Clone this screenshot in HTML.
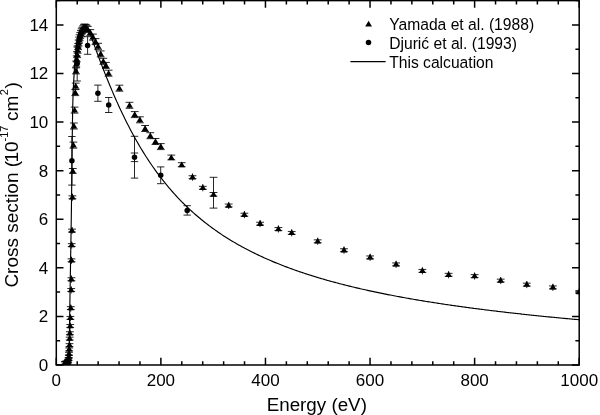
<!DOCTYPE html>
<html><head><meta charset="utf-8"><title>Cross section</title>
<style>html,body{margin:0;padding:0;background:#fff;}body{width:600px;height:415px;overflow:hidden;font-family:"Liberation Sans",sans-serif;}svg{display:block;will-change:transform}</style>
</head><body>
<svg width="600" height="415" viewBox="0 0 600 415">
<rect width="600" height="415" fill="#fff"/>
<defs><clipPath id="c"><rect x="56.3" y="0.6" width="522.9000000000001" height="364.4"/></clipPath></defs>
<g clip-path="url(#c)">
<path d="M213.50 177.30V208.10M209.60 177.30H217.40M209.60 208.10H217.40" stroke="#000" stroke-width="0.85" fill="none"/>
<path d="M134.50 153.00V161.60M130.80 153.00H138.20M130.80 161.60H138.20" stroke="#000" stroke-width="0.85" fill="none"/>
<path d="M71.90 136.50V185.10M68.20 136.50H75.60M68.20 185.10H75.60" stroke="#000" stroke-width="0.85" fill="none"/>
<path d="M77.20 46.00V81.00M73.50 46.00H80.90M73.50 81.00H80.90" stroke="#000" stroke-width="0.85" fill="none"/>
<path d="M87.60 36.70V54.30M83.90 36.70H91.30M83.90 54.30H91.30" stroke="#000" stroke-width="0.85" fill="none"/>
<path d="M97.90 85.10V101.30M94.20 85.10H101.60M94.20 101.30H101.60" stroke="#000" stroke-width="0.85" fill="none"/>
<path d="M108.70 97.50V112.50M105.00 97.50H112.40M105.00 112.50H112.40" stroke="#000" stroke-width="0.85" fill="none"/>
<path d="M134.50 136.30V178.10M130.80 136.30H138.20M130.80 178.10H138.20" stroke="#000" stroke-width="0.85" fill="none"/>
<path d="M160.70 166.90V183.70M157.00 166.90H164.40M157.00 183.70H164.40" stroke="#000" stroke-width="0.85" fill="none"/>
<path d="M187.20 205.70V215.10M183.50 205.70H190.90M183.50 215.10H190.90" stroke="#000" stroke-width="0.85" fill="none"/>
<path d="M64.80 361.85V364.75M60.90 361.85H68.70M60.90 364.75H68.70" stroke="#000" stroke-width="0.85" fill="none"/>
<path d="M64.80 359.70V366.80" stroke="#000" stroke-width="0.85"/>
<path d="M65.30 361.35V364.25M61.40 361.35H69.20M61.40 364.25H69.20" stroke="#000" stroke-width="0.85" fill="none"/>
<path d="M65.30 359.20V366.30" stroke="#000" stroke-width="0.85"/>
<path d="M65.80 361.75V364.65M61.90 361.75H69.70M61.90 364.65H69.70" stroke="#000" stroke-width="0.85" fill="none"/>
<path d="M65.80 359.60V366.70" stroke="#000" stroke-width="0.85"/>
<path d="M66.30 361.15V364.05M62.40 361.15H70.20M62.40 364.05H70.20" stroke="#000" stroke-width="0.85" fill="none"/>
<path d="M66.30 359.00V366.10" stroke="#000" stroke-width="0.85"/>
<path d="M66.80 361.45V364.35M62.90 361.45H70.70M62.90 364.35H70.70" stroke="#000" stroke-width="0.85" fill="none"/>
<path d="M66.80 359.30V366.40" stroke="#000" stroke-width="0.85"/>
<path d="M67.30 360.75V363.65M63.40 360.75H71.20M63.40 363.65H71.20" stroke="#000" stroke-width="0.85" fill="none"/>
<path d="M67.30 358.60V365.70" stroke="#000" stroke-width="0.85"/>
<path d="M67.80 360.15V363.05M63.90 360.15H71.70M63.90 363.05H71.70" stroke="#000" stroke-width="0.85" fill="none"/>
<path d="M67.80 358.00V365.10" stroke="#000" stroke-width="0.85"/>
<path d="M68.20 359.25V362.15M64.30 359.25H72.10M64.30 362.15H72.10" stroke="#000" stroke-width="0.85" fill="none"/>
<path d="M68.20 357.10V364.20" stroke="#000" stroke-width="0.85"/>
<path d="M68.60 357.55V360.45M64.70 357.55H72.50M64.70 360.45H72.50" stroke="#000" stroke-width="0.85" fill="none"/>
<path d="M68.60 355.40V362.50" stroke="#000" stroke-width="0.85"/>
<path d="M68.80 355.15V358.05M64.90 355.15H72.70M64.90 358.05H72.70" stroke="#000" stroke-width="0.85" fill="none"/>
<path d="M68.80 353.00V360.10" stroke="#000" stroke-width="0.85"/>
<path d="M69.00 352.35V355.25M65.10 352.35H72.90M65.10 355.25H72.90" stroke="#000" stroke-width="0.85" fill="none"/>
<path d="M69.00 350.20V357.30" stroke="#000" stroke-width="0.85"/>
<path d="M69.20 347.95V350.85M65.30 347.95H73.10M65.30 350.85H73.10" stroke="#000" stroke-width="0.85" fill="none"/>
<path d="M69.20 345.80V352.90" stroke="#000" stroke-width="0.85"/>
<path d="M69.50 343.65V346.55M65.60 343.65H73.40M65.60 346.55H73.40" stroke="#000" stroke-width="0.85" fill="none"/>
<path d="M69.50 341.50V348.60" stroke="#000" stroke-width="0.85"/>
<path d="M69.70 337.15V340.05M65.80 337.15H73.60M65.80 340.05H73.60" stroke="#000" stroke-width="0.85" fill="none"/>
<path d="M69.70 335.00V342.10" stroke="#000" stroke-width="0.85"/>
<path d="M69.90 331.75V334.65M66.00 331.75H73.80M66.00 334.65H73.80" stroke="#000" stroke-width="0.85" fill="none"/>
<path d="M69.90 329.60V336.70" stroke="#000" stroke-width="0.85"/>
<path d="M70.20 324.55V327.45M66.30 324.55H74.10M66.30 327.45H74.10" stroke="#000" stroke-width="0.85" fill="none"/>
<path d="M70.20 322.40V329.50" stroke="#000" stroke-width="0.85"/>
<path d="M70.40 316.45V319.35M66.50 316.45H74.30M66.50 319.35H74.30" stroke="#000" stroke-width="0.85" fill="none"/>
<path d="M70.40 314.30V321.40" stroke="#000" stroke-width="0.85"/>
<path d="M70.80 306.65V309.55M66.90 306.65H74.70M66.90 309.55H74.70" stroke="#000" stroke-width="0.85" fill="none"/>
<path d="M70.80 304.50V311.60" stroke="#000" stroke-width="0.85"/>
<path d="M71.20 288.55V291.45M67.30 288.55H75.10M67.30 291.45H75.10" stroke="#000" stroke-width="0.85" fill="none"/>
<path d="M71.20 286.40V293.50" stroke="#000" stroke-width="0.85"/>
<path d="M71.40 277.75V280.65M67.50 277.75H75.30M67.50 280.65H75.30" stroke="#000" stroke-width="0.85" fill="none"/>
<path d="M71.40 275.60V282.70" stroke="#000" stroke-width="0.85"/>
<path d="M71.50 258.85V261.75M67.60 258.85H75.40M67.60 261.75H75.40" stroke="#000" stroke-width="0.85" fill="none"/>
<path d="M71.50 256.70V263.80" stroke="#000" stroke-width="0.85"/>
<path d="M71.70 243.65V246.55M67.80 243.65H75.60M67.80 246.55H75.60" stroke="#000" stroke-width="0.85" fill="none"/>
<path d="M71.70 241.50V248.60" stroke="#000" stroke-width="0.85"/>
<path d="M72.00 229.15V232.05M68.10 229.15H75.90M68.10 232.05H75.90" stroke="#000" stroke-width="0.85" fill="none"/>
<path d="M72.00 227.00V234.10" stroke="#000" stroke-width="0.85"/>
<path d="M72.40 195.85V198.75M68.50 195.85H76.30M68.50 198.75H76.30" stroke="#000" stroke-width="0.85" fill="none"/>
<path d="M72.40 193.70V200.80" stroke="#000" stroke-width="0.85"/>
<path d="M72.80 168.50V173.30M68.90 168.50H76.70M68.90 173.30H76.70" stroke="#000" stroke-width="0.85" fill="none"/>
<path d="M73.40 142.10V148.10M69.50 142.10H77.30M69.50 148.10H77.30" stroke="#000" stroke-width="0.85" fill="none"/>
<path d="M73.90 123.00V129.00M70.00 123.00H77.80M70.00 129.00H77.80" stroke="#000" stroke-width="0.85" fill="none"/>
<path d="M74.60 107.10V113.10M70.70 107.10H78.50M70.70 113.10H78.50" stroke="#000" stroke-width="0.85" fill="none"/>
<path d="M75.30 89.60V95.60M71.40 89.60H79.20M71.40 95.60H79.20" stroke="#000" stroke-width="0.85" fill="none"/>
<path d="M75.70 83.10V89.10M71.80 83.10H79.60M71.80 89.10H79.60" stroke="#000" stroke-width="0.85" fill="none"/>
<path d="M76.00 67.90V73.90M72.10 67.90H79.90M72.10 73.90H79.90" stroke="#000" stroke-width="0.85" fill="none"/>
<path d="M76.30 61.10V67.10M72.40 61.10H80.20M72.40 67.10H80.20" stroke="#000" stroke-width="0.85" fill="none"/>
<path d="M76.70 55.90V61.90M72.80 55.90H80.60M72.80 61.90H80.60" stroke="#000" stroke-width="0.85" fill="none"/>
<path d="M77.10 51.60V57.60M73.20 51.60H81.00M73.20 57.60H81.00" stroke="#000" stroke-width="0.85" fill="none"/>
<path d="M77.60 47.20V53.20M73.70 47.20H81.50M73.70 53.20H81.50" stroke="#000" stroke-width="0.85" fill="none"/>
<path d="M78.10 43.60V49.60M74.20 43.60H82.00M74.20 49.60H82.00" stroke="#000" stroke-width="0.85" fill="none"/>
<path d="M78.60 40.00V46.00M74.70 40.00H82.50M74.70 46.00H82.50" stroke="#000" stroke-width="0.85" fill="none"/>
<path d="M79.10 37.10V43.10M75.20 37.10H83.00M75.20 43.10H83.00" stroke="#000" stroke-width="0.85" fill="none"/>
<path d="M79.60 34.80V40.80M75.70 34.80H83.50M75.70 40.80H83.50" stroke="#000" stroke-width="0.85" fill="none"/>
<path d="M80.20 32.60V38.60M76.30 32.60H84.10M76.30 38.60H84.10" stroke="#000" stroke-width="0.85" fill="none"/>
<path d="M80.90 30.60V36.60M77.00 30.60H84.80M77.00 36.60H84.80" stroke="#000" stroke-width="0.85" fill="none"/>
<path d="M81.60 28.80V34.80M77.70 28.80H85.50M77.70 34.80H85.50" stroke="#000" stroke-width="0.85" fill="none"/>
<path d="M82.30 27.30V33.30M78.40 27.30H86.20M78.40 33.30H86.20" stroke="#000" stroke-width="0.85" fill="none"/>
<path d="M83.10 25.90V31.90M79.20 25.90H87.00M79.20 31.90H87.00" stroke="#000" stroke-width="0.85" fill="none"/>
<path d="M83.90 24.80V30.80M80.00 24.80H87.80M80.00 30.80H87.80" stroke="#000" stroke-width="0.85" fill="none"/>
<path d="M84.60 24.00V30.00M80.70 24.00H88.50M80.70 30.00H88.50" stroke="#000" stroke-width="0.85" fill="none"/>
<path d="M85.60 24.50V30.50M81.70 24.50H89.50M81.70 30.50H89.50" stroke="#000" stroke-width="0.85" fill="none"/>
<path d="M86.60 25.30V31.30M82.70 25.30H90.50M82.70 31.30H90.50" stroke="#000" stroke-width="0.85" fill="none"/>
<path d="M87.80 26.40V32.40M83.90 26.40H91.70M83.90 32.40H91.70" stroke="#000" stroke-width="0.85" fill="none"/>
<path d="M90.30 29.60V35.60M86.40 29.60H94.20M86.40 35.60H94.20" stroke="#000" stroke-width="0.85" fill="none"/>
<path d="M92.90 34.10V40.10M89.00 34.10H96.80M89.00 40.10H96.80" stroke="#000" stroke-width="0.85" fill="none"/>
<path d="M95.50 38.60V44.60M91.60 38.60H99.40M91.60 44.60H99.40" stroke="#000" stroke-width="0.85" fill="none"/>
<path d="M98.10 43.30V49.30M94.20 43.30H102.00M94.20 49.30H102.00" stroke="#000" stroke-width="0.85" fill="none"/>
<path d="M100.70 50.90V56.90M96.80 50.90H104.60M96.80 56.90H104.60" stroke="#000" stroke-width="0.85" fill="none"/>
<path d="M103.30 58.30V64.30M99.40 58.30H107.20M99.40 64.30H107.20" stroke="#000" stroke-width="0.85" fill="none"/>
<path d="M105.90 62.40V68.40M102.00 62.40H109.80M102.00 68.40H109.80" stroke="#000" stroke-width="0.85" fill="none"/>
<path d="M108.60 70.20V76.20M104.70 70.20H112.50M104.70 76.20H112.50" stroke="#000" stroke-width="0.85" fill="none"/>
<path d="M119.40 85.20V91.20M115.50 85.20H123.30M115.50 91.20H123.30" stroke="#000" stroke-width="0.85" fill="none"/>
<path d="M129.50 102.30V108.30M125.60 102.30H133.40M125.60 108.30H133.40" stroke="#000" stroke-width="0.85" fill="none"/>
<path d="M134.70 111.60V117.60M130.80 111.60H138.60M130.80 117.60H138.60" stroke="#000" stroke-width="0.85" fill="none"/>
<path d="M139.90 116.80V122.80M136.00 116.80H143.80M136.00 122.80H143.80" stroke="#000" stroke-width="0.85" fill="none"/>
<path d="M145.10 125.50V131.50M141.20 125.50H149.00M141.20 131.50H149.00" stroke="#000" stroke-width="0.85" fill="none"/>
<path d="M150.30 132.70V138.70M146.40 132.70H154.20M146.40 138.70H154.20" stroke="#000" stroke-width="0.85" fill="none"/>
<path d="M155.50 138.50V144.50M151.60 138.50H159.40M151.60 144.50H159.40" stroke="#000" stroke-width="0.85" fill="none"/>
<path d="M160.80 143.60V149.60M156.90 143.60H164.70M156.90 149.60H164.70" stroke="#000" stroke-width="0.85" fill="none"/>
<path d="M171.30 155.10V159.90M167.40 155.10H175.20M167.40 159.90H175.20" stroke="#000" stroke-width="0.85" fill="none"/>
<path d="M181.70 162.70V166.70M177.80 162.70H185.60M177.80 166.70H185.60" stroke="#000" stroke-width="0.85" fill="none"/>
<path d="M192.50 175.75V178.65M188.60 175.75H196.40M188.60 178.65H196.40" stroke="#000" stroke-width="0.85" fill="none"/>
<path d="M192.50 173.60V180.70" stroke="#000" stroke-width="0.85"/>
<path d="M202.80 186.35V189.25M198.90 186.35H206.70M198.90 189.25H206.70" stroke="#000" stroke-width="0.85" fill="none"/>
<path d="M202.80 184.20V191.30" stroke="#000" stroke-width="0.85"/>
<path d="M213.50 192.50V196.10M209.60 192.50H217.40M209.60 196.10H217.40" stroke="#000" stroke-width="0.85" fill="none"/>
<path d="M228.70 204.05V206.95M224.80 204.05H232.60M224.80 206.95H232.60" stroke="#000" stroke-width="0.85" fill="none"/>
<path d="M228.70 201.90V209.00" stroke="#000" stroke-width="0.85"/>
<path d="M244.40 213.25V216.15M240.50 213.25H248.30M240.50 216.15H248.30" stroke="#000" stroke-width="0.85" fill="none"/>
<path d="M244.40 211.10V218.20" stroke="#000" stroke-width="0.85"/>
<path d="M260.10 222.25V225.15M256.20 222.25H264.00M256.20 225.15H264.00" stroke="#000" stroke-width="0.85" fill="none"/>
<path d="M260.10 220.10V227.20" stroke="#000" stroke-width="0.85"/>
<path d="M278.40 227.55V230.45M274.50 227.55H282.30M274.50 230.45H282.30" stroke="#000" stroke-width="0.85" fill="none"/>
<path d="M278.40 225.40V232.50" stroke="#000" stroke-width="0.85"/>
<path d="M291.70 231.45V234.35M287.80 231.45H295.60M287.80 234.35H295.60" stroke="#000" stroke-width="0.85" fill="none"/>
<path d="M291.70 229.30V236.40" stroke="#000" stroke-width="0.85"/>
<path d="M317.70 239.85V242.75M313.80 239.85H321.60M313.80 242.75H321.60" stroke="#000" stroke-width="0.85" fill="none"/>
<path d="M317.70 237.70V244.80" stroke="#000" stroke-width="0.85"/>
<path d="M344.00 248.75V251.65M340.10 248.75H347.90M340.10 251.65H347.90" stroke="#000" stroke-width="0.85" fill="none"/>
<path d="M344.00 246.60V253.70" stroke="#000" stroke-width="0.85"/>
<path d="M370.10 255.95V258.85M366.20 255.95H374.00M366.20 258.85H374.00" stroke="#000" stroke-width="0.85" fill="none"/>
<path d="M370.10 253.80V260.90" stroke="#000" stroke-width="0.85"/>
<path d="M396.10 262.95V265.85M392.20 262.95H400.00M392.20 265.85H400.00" stroke="#000" stroke-width="0.85" fill="none"/>
<path d="M396.10 260.80V267.90" stroke="#000" stroke-width="0.85"/>
<path d="M422.40 269.45V272.35M418.50 269.45H426.30M418.50 272.35H426.30" stroke="#000" stroke-width="0.85" fill="none"/>
<path d="M422.40 267.30V274.40" stroke="#000" stroke-width="0.85"/>
<path d="M448.60 273.35V276.25M444.70 273.35H452.50M444.70 276.25H452.50" stroke="#000" stroke-width="0.85" fill="none"/>
<path d="M448.60 271.20V278.30" stroke="#000" stroke-width="0.85"/>
<path d="M474.60 274.65V277.55M470.70 274.65H478.50M470.70 277.55H478.50" stroke="#000" stroke-width="0.85" fill="none"/>
<path d="M474.60 272.50V279.60" stroke="#000" stroke-width="0.85"/>
<path d="M500.70 279.15V282.05M496.80 279.15H504.60M496.80 282.05H504.60" stroke="#000" stroke-width="0.85" fill="none"/>
<path d="M500.70 277.00V284.10" stroke="#000" stroke-width="0.85"/>
<path d="M526.80 283.15V286.05M522.90 283.15H530.70M522.90 286.05H530.70" stroke="#000" stroke-width="0.85" fill="none"/>
<path d="M526.80 281.00V288.10" stroke="#000" stroke-width="0.85"/>
<path d="M552.90 285.95V288.85M549.00 285.95H556.80M549.00 288.85H556.80" stroke="#000" stroke-width="0.85" fill="none"/>
<path d="M552.90 283.80V290.90" stroke="#000" stroke-width="0.85"/>
<path d="M579.30 290.55V293.45M575.40 290.55H583.20M575.40 293.45H583.20" stroke="#000" stroke-width="0.85" fill="none"/>
<path d="M579.30 288.40V295.50" stroke="#000" stroke-width="0.85"/>
<polyline points="68.90,364.50 68.92,363.24 68.94,361.98 68.96,360.72 68.98,359.46 69.00,358.20 69.02,356.94 69.04,355.68 69.06,354.42 69.07,353.16 69.09,351.91 69.11,350.65 69.13,349.39 69.15,348.13 69.17,346.87 69.19,345.61 69.21,344.35 69.23,343.09 69.25,341.83 69.27,340.57 69.29,339.31 69.31,338.05 69.33,336.79 69.35,335.53 69.37,334.27 69.39,333.01 69.41,331.75 69.43,330.49 69.45,329.23 69.47,327.98 69.49,326.72 69.51,325.46 69.53,324.20 69.55,322.94 69.57,321.68 69.59,320.42 69.61,319.16 69.63,317.90 69.65,316.64 69.68,315.38 69.70,314.12 69.72,312.86 69.74,311.60 69.76,310.34 69.78,309.08 69.80,307.82 69.82,306.56 69.84,305.30 69.86,304.05 69.88,302.79 69.90,301.53 69.93,300.27 69.95,299.01 69.97,297.75 69.99,296.49 70.01,295.23 70.03,293.97 70.05,292.71 70.07,291.45 70.10,290.19 70.12,288.93 70.14,287.67 70.16,286.41 70.18,285.15 70.20,283.89 70.22,282.63 70.24,281.37 70.27,280.12 70.29,278.86 70.31,277.60 70.33,276.34 70.35,275.08 70.37,273.82 70.39,272.56 70.41,271.30 70.43,270.04 70.46,268.78 70.48,267.52 70.50,266.26 70.52,265.00 70.54,263.74 70.56,262.48 70.58,261.22 70.60,259.96 70.62,258.70 70.64,257.45 70.66,256.19 70.68,254.93 70.70,253.67 70.73,252.41 70.75,251.15 70.77,249.89 70.79,248.63 70.81,247.37 70.83,246.11 70.85,244.85 70.87,243.59 70.89,242.33 70.92,241.07 70.94,239.81 70.96,238.55 70.98,237.29 71.00,236.03 71.02,234.77 71.04,233.52 71.06,232.26 71.08,231.00 71.10,229.74 71.12,228.48 71.14,227.22 71.16,225.96 71.18,224.70 71.20,223.44 71.22,222.18 71.24,220.92 71.26,219.66 71.28,218.40 71.30,217.14 71.32,215.88 71.33,214.62 71.35,213.36 71.37,212.10 71.39,210.84 71.41,209.59 71.42,208.33 71.44,207.07 71.46,205.81 71.47,204.55 71.49,203.29 71.51,202.03 71.52,200.77 71.54,199.51 71.55,198.25 71.57,196.99 71.58,195.73 71.60,194.47 71.61,193.21 71.63,191.95 71.64,190.69 71.66,189.43 71.67,188.17 71.69,186.91 71.70,185.65 71.72,184.39 71.73,183.13 71.74,181.88 71.76,180.62 71.77,179.36 71.79,178.10 71.80,176.84 71.82,175.58 71.83,174.32 71.85,173.06 71.86,171.80 71.87,170.54 71.89,169.28 71.90,168.02 71.92,166.76 71.93,165.50 71.95,164.24 71.96,162.98 71.98,161.72 71.99,160.46 72.01,159.20 72.02,157.94 72.04,156.68 72.05,155.42 72.07,154.17 72.08,152.91 72.10,151.65 72.11,150.39 72.13,149.13 72.14,147.87 72.16,146.61 72.17,145.35 72.18,144.09 72.20,142.83 72.21,141.57 72.23,140.31 72.24,139.05 72.26,137.79 72.27,136.53 72.29,135.27 72.30,134.01 72.32,132.75 72.34,131.49 72.35,130.23 72.37,128.97 72.39,127.71 72.40,126.46 72.42,125.20 72.44,123.94 72.46,122.68 72.48,121.42 72.50,120.16 72.52,118.90 72.54,117.64 72.56,116.38 72.58,115.12 72.60,113.86 72.62,112.60 72.65,111.34 72.67,110.08 72.69,108.82 72.72,107.56 72.75,106.30 72.77,105.04 72.80,103.78 72.83,102.53 72.87,101.27 72.90,100.01 72.94,98.75 72.98,97.49 73.02,96.23 73.06,94.97 73.11,93.71 73.16,92.45 73.21,91.20 73.27,89.94 73.32,88.68 73.38,87.42 73.45,86.16 73.51,84.90 73.57,83.65 73.64,82.39 73.71,81.13 73.78,79.87 73.85,78.61 73.92,77.36 73.99,76.10 74.07,74.84 74.14,73.58 74.22,72.33 74.30,71.07 74.37,69.81 74.46,68.56 74.55,67.30 74.64,66.04 74.74,64.79 74.83,63.53 74.94,62.28 75.04,61.02 75.15,59.77 75.25,58.51 75.36,57.25 75.47,56.00 75.58,54.74 75.69,53.49 75.80,52.23 75.91,50.98 76.02,49.72 76.14,48.47 76.27,47.22 76.40,45.97 76.54,44.71 76.69,43.46 76.85,42.21 77.01,40.96 77.20,39.71 77.40,38.47 77.63,37.24 77.89,35.99 78.19,34.76 78.52,33.54 78.88,32.35 79.30,31.16 79.81,29.96 80.42,28.83 81.12,27.85 82.05,26.85 83.14,26.30 84.38,26.51 85.52,26.96 86.47,27.75 87.32,28.79 88.04,29.85 88.66,30.89 89.23,31.97 89.77,33.09 90.27,34.24 90.74,35.42 91.19,36.62 91.63,37.83 92.06,39.04 92.48,40.26 92.91,41.46 93.35,42.66 93.79,43.83 94.23,45.02 94.65,46.20 95.08,47.39 95.50,48.58 95.93,49.76 96.36,50.94 96.80,52.12 97.24,53.31 97.67,54.49 98.11,55.67 98.56,56.85 99.00,58.03 100.20,61.20 101.41,64.35 102.61,67.46 103.82,70.54 105.02,73.59 106.22,76.60 107.43,79.58 108.63,82.52 109.84,85.43 111.04,88.31 112.24,91.14 113.45,93.95 114.65,96.71 115.86,99.44 117.06,102.14 118.26,104.80 119.47,107.42 120.67,110.00 121.88,112.55 123.08,115.07 124.28,117.55 125.49,119.99 126.69,122.40 127.90,124.77 129.10,127.11 130.30,129.42 131.51,131.69 132.71,133.93 133.92,136.13 135.12,138.30 136.32,140.44 137.53,142.55 138.73,144.63 139.94,146.67 141.14,148.69 142.34,150.67 143.55,152.62 144.75,154.55 145.96,156.45 147.16,158.31 148.36,160.15 149.57,161.97 150.77,163.75 151.98,165.51 153.18,167.24 154.38,168.95 155.59,170.63 156.79,172.29 158.00,173.92 159.20,175.53 160.40,177.11 161.61,178.68 162.81,180.21 164.02,181.73 165.22,183.22 166.42,184.70 167.63,186.15 168.83,187.58 170.04,188.99 171.24,190.38 172.44,191.75 173.65,193.10 174.85,194.43 176.06,195.75 177.26,197.04 178.46,198.32 179.67,199.58 180.87,200.82 182.08,202.05 183.28,203.25 184.48,204.45 185.69,205.62 186.89,206.78 188.10,207.92 189.30,209.05 190.50,210.17 191.71,211.27 192.91,212.35 194.12,213.42 195.32,214.47 196.52,215.52 197.73,216.55 198.93,217.56 200.14,218.56 201.34,219.55 202.54,220.53 203.75,221.49 204.95,222.45 206.16,223.39 207.36,224.31 208.56,225.23 209.77,226.14 210.97,227.03 212.18,227.91 213.38,228.79 214.58,229.65 215.79,230.50 216.99,231.34 218.20,232.17 219.40,232.99 220.61,233.80 221.81,234.61 223.01,235.40 224.22,236.18 225.42,236.95 226.63,237.72 227.83,238.48 229.03,239.22 230.24,239.96 231.44,240.69 232.65,241.41 233.85,242.13 235.05,242.83 236.26,243.53 237.46,244.22 238.67,244.91 239.87,245.58 241.07,246.25 242.28,246.91 243.48,247.56 244.69,248.21 245.89,248.85 247.09,249.48 248.30,250.11 249.50,250.72 250.71,251.34 251.91,251.94 253.11,252.54 254.32,253.14 255.52,253.72 256.73,254.30 257.93,254.88 259.13,255.45 260.34,256.01 261.54,256.57 262.75,257.12 263.95,257.67 265.15,258.21 266.36,258.75 267.56,259.28 268.77,259.80 269.97,260.32 271.17,260.84 272.38,261.35 273.58,261.85 274.79,262.35 275.99,262.85 277.19,263.34 278.40,263.83 279.60,264.31 280.81,264.79 282.01,265.26 283.21,265.73 284.42,266.19 285.62,266.65 286.83,267.11 288.03,267.56 289.23,268.00 290.44,268.45 291.64,268.89 292.85,269.32 294.05,269.75 295.25,270.18 296.46,270.60 297.66,271.02 298.87,271.44 300.07,271.85 301.27,272.26 302.48,272.66 303.68,273.07 304.89,273.46 306.09,273.86 307.29,274.25 308.50,274.64 309.70,275.02 310.91,275.41 312.11,275.78 313.31,276.16 314.52,276.53 315.72,276.90 316.93,277.27 318.13,277.63 319.33,277.99 320.54,278.35 321.74,278.70 322.95,279.05 324.15,279.40 325.35,279.75 326.56,280.09 327.76,280.43 328.97,280.77 330.17,281.10 331.37,281.44 332.58,281.77 333.78,282.09 334.99,282.42 336.19,282.74 337.39,283.06 338.60,283.38 339.80,283.69 341.01,284.00 342.21,284.31 343.41,284.62 344.62,284.93 345.82,285.23 347.03,285.53 348.23,285.83 349.43,286.13 350.64,286.42 351.84,286.71 353.05,287.00 354.25,287.29 355.45,287.58 356.66,287.86 357.86,288.14 359.07,288.42 360.27,288.70 361.47,288.98 362.68,289.25 363.88,289.52 365.09,289.79 366.29,290.06 367.49,290.33 368.70,290.59 369.90,290.85 371.11,291.12 372.31,291.38 373.51,291.63 374.72,291.89 375.92,292.14 377.13,292.39 378.33,292.64 379.53,292.89 380.74,293.14 381.94,293.39 383.15,293.63 384.35,293.87 385.55,294.11 386.76,294.35 387.96,294.59 389.17,294.83 390.37,295.06 391.57,295.29 392.78,295.53 393.98,295.76 395.19,295.99 396.39,296.21 397.59,296.44 398.80,296.66 400.00,296.89 401.21,297.11 402.41,297.33 403.61,297.55 404.82,297.76 406.02,297.98 407.23,298.20 408.43,298.41 409.63,298.62 410.84,298.83 412.04,299.04 413.25,299.25 414.45,299.46 415.65,299.66 416.86,299.87 418.06,300.07 419.27,300.27 420.47,300.48 421.67,300.68 422.88,300.88 424.08,301.07 425.29,301.27 426.49,301.46 427.69,301.66 428.90,301.85 430.10,302.04 431.31,302.24 432.51,302.43 433.71,302.61 434.92,302.80 436.12,302.99 437.33,303.18 438.53,303.36 439.73,303.54 440.94,303.73 442.14,303.91 443.35,304.09 444.55,304.27 445.75,304.45 446.96,304.63 448.16,304.80 449.37,304.98 450.57,305.15 451.77,305.33 452.98,305.50 454.18,305.67 455.39,305.84 456.59,306.01 457.79,306.18 459.00,306.35 460.20,306.52 461.41,306.69 462.61,306.85 463.82,307.02 465.02,307.18 466.22,307.35 467.43,307.51 468.63,307.67 469.84,307.83 471.04,307.99 472.24,308.15 473.45,308.31 474.65,308.47 475.86,308.62 477.06,308.78 478.26,308.94 479.47,309.09 480.67,309.24 481.88,309.40 483.08,309.55 484.28,309.70 485.49,309.85 486.69,310.00 487.90,310.15 489.10,310.30 490.30,310.45 491.51,310.60 492.71,310.74 493.92,310.89 495.12,311.03 496.32,311.18 497.53,311.32 498.73,311.47 499.94,311.61 501.14,311.75 502.34,311.89 503.55,312.03 504.75,312.17 505.96,312.31 507.16,312.45 508.36,312.59 509.57,312.72 510.77,312.86 511.98,313.00 513.18,313.13 514.38,313.27 515.59,313.40 516.79,313.54 518.00,313.67 519.20,313.80 520.40,313.93 521.61,314.07 522.81,314.20 524.02,314.33 525.22,314.46 526.42,314.59 527.63,314.71 528.83,314.84 530.04,314.97 531.24,315.10 532.44,315.22 533.65,315.35 534.85,315.47 536.06,315.60 537.26,315.72 538.46,315.85 539.67,315.97 540.87,316.09 542.08,316.21 543.28,316.34 544.48,316.46 545.69,316.58 546.89,316.70 548.10,316.82 549.30,316.94 550.50,317.06 551.71,317.17 552.91,317.29 554.12,317.41 555.32,317.53 556.52,317.64 557.73,317.76 558.93,317.87 560.14,317.99 561.34,318.10 562.54,318.22 563.75,318.33 564.95,318.44 566.16,318.56 567.36,318.67 568.56,318.78 569.77,318.89 570.97,319.00 572.18,319.11 573.38,319.22 574.58,319.33 575.79,319.44 576.99,319.55 578.20,319.66 579.40,319.77" fill="none" stroke="#000" stroke-width="1.15" stroke-linejoin="round"/>
<circle cx="71.90" cy="160.80" r="2.75" fill="#000"/>
<circle cx="77.20" cy="63.50" r="2.75" fill="#000"/>
<circle cx="87.60" cy="45.50" r="2.75" fill="#000"/>
<circle cx="97.90" cy="93.20" r="2.75" fill="#000"/>
<circle cx="108.70" cy="105.00" r="2.75" fill="#000"/>
<circle cx="134.50" cy="157.20" r="2.75" fill="#000"/>
<circle cx="160.70" cy="175.30" r="2.75" fill="#000"/>
<circle cx="187.20" cy="210.40" r="2.75" fill="#000"/>
<path d="M64.80 359.70L68.20 365.50H61.40Z" fill="#000"/>
<path d="M65.30 359.20L68.70 365.00H61.90Z" fill="#000"/>
<path d="M65.80 359.60L69.20 365.40H62.40Z" fill="#000"/>
<path d="M66.30 359.00L69.70 364.80H62.90Z" fill="#000"/>
<path d="M66.80 359.30L70.20 365.10H63.40Z" fill="#000"/>
<path d="M67.30 358.60L70.70 364.40H63.90Z" fill="#000"/>
<path d="M67.80 358.00L71.20 363.80H64.40Z" fill="#000"/>
<path d="M68.20 357.10L71.60 362.90H64.80Z" fill="#000"/>
<path d="M68.60 355.40L72.00 361.20H65.20Z" fill="#000"/>
<path d="M68.80 353.00L72.20 358.80H65.40Z" fill="#000"/>
<path d="M69.00 350.20L72.40 356.00H65.60Z" fill="#000"/>
<path d="M69.20 345.80L72.60 351.60H65.80Z" fill="#000"/>
<path d="M69.50 341.50L72.90 347.30H66.10Z" fill="#000"/>
<path d="M69.70 335.00L73.10 340.80H66.30Z" fill="#000"/>
<path d="M69.90 329.60L73.30 335.40H66.50Z" fill="#000"/>
<path d="M70.20 322.40L73.60 328.20H66.80Z" fill="#000"/>
<path d="M70.40 314.30L73.80 320.10H67.00Z" fill="#000"/>
<path d="M70.80 304.50L74.20 310.30H67.40Z" fill="#000"/>
<path d="M71.20 286.40L74.60 292.20H67.80Z" fill="#000"/>
<path d="M71.40 275.60L74.80 281.40H68.00Z" fill="#000"/>
<path d="M71.50 256.70L74.90 262.50H68.10Z" fill="#000"/>
<path d="M71.70 241.50L75.10 247.30H68.30Z" fill="#000"/>
<path d="M72.00 227.00L75.40 232.80H68.60Z" fill="#000"/>
<path d="M72.40 193.70L75.80 199.50H69.00Z" fill="#000"/>
<path d="M72.80 167.60L76.20 173.40H69.40Z" fill="#000"/>
<path d="M73.40 141.80L76.80 147.60H70.00Z" fill="#000"/>
<path d="M73.90 122.70L77.30 128.50H70.50Z" fill="#000"/>
<path d="M74.60 106.80L78.00 112.60H71.20Z" fill="#000"/>
<path d="M75.30 89.30L78.70 95.10H71.90Z" fill="#000"/>
<path d="M75.70 82.80L79.10 88.60H72.30Z" fill="#000"/>
<path d="M76.00 67.60L79.40 73.40H72.60Z" fill="#000"/>
<path d="M76.30 60.80L79.70 66.60H72.90Z" fill="#000"/>
<path d="M76.70 55.60L80.10 61.40H73.30Z" fill="#000"/>
<path d="M77.10 51.30L80.50 57.10H73.70Z" fill="#000"/>
<path d="M77.60 46.90L81.00 52.70H74.20Z" fill="#000"/>
<path d="M78.10 43.30L81.50 49.10H74.70Z" fill="#000"/>
<path d="M78.60 39.70L82.00 45.50H75.20Z" fill="#000"/>
<path d="M79.10 36.80L82.50 42.60H75.70Z" fill="#000"/>
<path d="M79.60 34.50L83.00 40.30H76.20Z" fill="#000"/>
<path d="M80.20 32.30L83.60 38.10H76.80Z" fill="#000"/>
<path d="M80.90 30.30L84.30 36.10H77.50Z" fill="#000"/>
<path d="M81.60 28.50L85.00 34.30H78.20Z" fill="#000"/>
<path d="M82.30 27.00L85.70 32.80H78.90Z" fill="#000"/>
<path d="M83.10 25.60L86.50 31.40H79.70Z" fill="#000"/>
<path d="M83.90 24.50L87.30 30.30H80.50Z" fill="#000"/>
<path d="M84.60 23.70L88.00 29.50H81.20Z" fill="#000"/>
<path d="M85.60 24.20L89.00 30.00H82.20Z" fill="#000"/>
<path d="M86.60 25.00L90.00 30.80H83.20Z" fill="#000"/>
<path d="M87.80 26.10L91.20 31.90H84.40Z" fill="#000"/>
<path d="M90.30 29.30L93.70 35.10H86.90Z" fill="#000"/>
<path d="M92.90 33.80L96.30 39.60H89.50Z" fill="#000"/>
<path d="M95.50 38.30L98.90 44.10H92.10Z" fill="#000"/>
<path d="M98.10 43.00L101.50 48.80H94.70Z" fill="#000"/>
<path d="M100.70 50.60L104.10 56.40H97.30Z" fill="#000"/>
<path d="M103.30 58.00L106.70 63.80H99.90Z" fill="#000"/>
<path d="M105.90 62.10L109.30 67.90H102.50Z" fill="#000"/>
<path d="M108.60 69.90L112.00 75.70H105.20Z" fill="#000"/>
<path d="M119.40 84.90L122.80 90.70H116.00Z" fill="#000"/>
<path d="M129.50 102.00L132.90 107.80H126.10Z" fill="#000"/>
<path d="M134.70 111.30L138.10 117.10H131.30Z" fill="#000"/>
<path d="M139.90 116.50L143.30 122.30H136.50Z" fill="#000"/>
<path d="M145.10 125.20L148.50 131.00H141.70Z" fill="#000"/>
<path d="M150.30 132.40L153.70 138.20H146.90Z" fill="#000"/>
<path d="M155.50 138.20L158.90 144.00H152.10Z" fill="#000"/>
<path d="M160.80 143.30L164.20 149.10H157.40Z" fill="#000"/>
<path d="M171.30 154.20L174.70 160.00H167.90Z" fill="#000"/>
<path d="M181.70 161.40L185.10 167.20H178.30Z" fill="#000"/>
<path d="M192.50 173.60L195.90 179.40H189.10Z" fill="#000"/>
<path d="M202.80 184.20L206.20 190.00H199.40Z" fill="#000"/>
<path d="M213.50 191.00L216.90 196.80H210.10Z" fill="#000"/>
<path d="M228.70 201.90L232.10 207.70H225.30Z" fill="#000"/>
<path d="M244.40 211.10L247.80 216.90H241.00Z" fill="#000"/>
<path d="M260.10 220.10L263.50 225.90H256.70Z" fill="#000"/>
<path d="M278.40 225.40L281.80 231.20H275.00Z" fill="#000"/>
<path d="M291.70 229.30L295.10 235.10H288.30Z" fill="#000"/>
<path d="M317.70 237.70L321.10 243.50H314.30Z" fill="#000"/>
<path d="M344.00 246.60L347.40 252.40H340.60Z" fill="#000"/>
<path d="M370.10 253.80L373.50 259.60H366.70Z" fill="#000"/>
<path d="M396.10 260.80L399.50 266.60H392.70Z" fill="#000"/>
<path d="M422.40 267.30L425.80 273.10H419.00Z" fill="#000"/>
<path d="M448.60 271.20L452.00 277.00H445.20Z" fill="#000"/>
<path d="M474.60 272.50L478.00 278.30H471.20Z" fill="#000"/>
<path d="M500.70 277.00L504.10 282.80H497.30Z" fill="#000"/>
<path d="M526.80 281.00L530.20 286.80H523.40Z" fill="#000"/>
<path d="M552.90 283.80L556.30 289.60H549.50Z" fill="#000"/>
<path d="M579.30 288.40L582.70 294.20H575.90Z" fill="#000"/>
</g>
<rect x="56.3" y="0.6" width="522.9000000000001" height="364.4" fill="none" stroke="#000" stroke-width="1.5"/>
<path d="M56.30 365.0v-7.2M56.30 0.6v7.2M77.22 365.0v-3.8M77.22 0.6v3.8M98.13 365.0v-3.8M98.13 0.6v3.8M119.05 365.0v-3.8M119.05 0.6v3.8M139.96 365.0v-3.8M139.96 0.6v3.8M160.88 365.0v-7.2M160.88 0.6v7.2M181.80 365.0v-3.8M181.80 0.6v3.8M202.71 365.0v-3.8M202.71 0.6v3.8M223.63 365.0v-3.8M223.63 0.6v3.8M244.54 365.0v-3.8M244.54 0.6v3.8M265.46 365.0v-7.2M265.46 0.6v7.2M286.38 365.0v-3.8M286.38 0.6v3.8M307.29 365.0v-3.8M307.29 0.6v3.8M328.21 365.0v-3.8M328.21 0.6v3.8M349.12 365.0v-3.8M349.12 0.6v3.8M370.04 365.0v-7.2M370.04 0.6v7.2M390.96 365.0v-3.8M390.96 0.6v3.8M411.87 365.0v-3.8M411.87 0.6v3.8M432.79 365.0v-3.8M432.79 0.6v3.8M453.70 365.0v-3.8M453.70 0.6v3.8M474.62 365.0v-7.2M474.62 0.6v7.2M495.54 365.0v-3.8M495.54 0.6v3.8M516.45 365.0v-3.8M516.45 0.6v3.8M537.37 365.0v-3.8M537.37 0.6v3.8M558.28 365.0v-3.8M558.28 0.6v3.8M579.20 365.0v-7.2M579.20 0.6v7.2M56.3 365.00h7.2M579.2 365.00h-7.2M56.3 340.71h3.8M579.2 340.71h-3.8M56.3 316.41h7.2M579.2 316.41h-7.2M56.3 292.12h3.8M579.2 292.12h-3.8M56.3 267.83h7.2M579.2 267.83h-7.2M56.3 243.54h3.8M579.2 243.54h-3.8M56.3 219.24h7.2M579.2 219.24h-7.2M56.3 194.95h3.8M579.2 194.95h-3.8M56.3 170.66h7.2M579.2 170.66h-7.2M56.3 146.36h3.8M579.2 146.36h-3.8M56.3 122.07h7.2M579.2 122.07h-7.2M56.3 97.78h3.8M579.2 97.78h-3.8M56.3 73.49h7.2M579.2 73.49h-7.2M56.3 49.19h3.8M579.2 49.19h-3.8M56.3 24.90h7.2M579.2 24.90h-7.2M56.3 0.61h3.8M579.2 0.61h-3.8" stroke="#000" stroke-width="1.5" fill="none"/>
<g font-family="Liberation Sans, sans-serif" font-size="17" fill="#000">
<text x="56.30" y="386.4" text-anchor="middle">0</text>
<text x="160.88" y="386.4" text-anchor="middle">200</text>
<text x="265.46" y="386.4" text-anchor="middle">400</text>
<text x="370.04" y="386.4" text-anchor="middle">600</text>
<text x="474.62" y="386.4" text-anchor="middle">800</text>
<text x="579.20" y="386.4" text-anchor="middle">1000</text>
<text x="48.3" y="371.00" text-anchor="end">0</text>
<text x="48.3" y="322.41" text-anchor="end">2</text>
<text x="48.3" y="273.83" text-anchor="end">4</text>
<text x="48.3" y="225.24" text-anchor="end">6</text>
<text x="48.3" y="176.66" text-anchor="end">8</text>
<text x="48.3" y="128.07" text-anchor="end">10</text>
<text x="48.3" y="79.49" text-anchor="end">12</text>
<text x="48.3" y="30.90" text-anchor="end">14</text>
</g>
<g font-family="Liberation Sans, sans-serif" font-size="18.8" fill="#000">
<text x="316.8" y="411" text-anchor="middle">Energy (eV)</text>
<text transform="translate(18,287.6) rotate(-90)" font-size="19" text-anchor="start">Cross section (<tspan dx="-1.7">10</tspan><tspan font-size="11" dy="-9.8">-17</tspan><tspan dy="9.8" dx="-0.6"> cm</tspan><tspan font-size="11" dy="-9.8" dx="0.3">2</tspan><tspan dy="9.8" dx="0.5">)</tspan></text>
</g>
<path d="M368.60 20.70L372.00 26.50H365.20Z" fill="#000"/>
<circle cx="368.50" cy="42.50" r="2.75" fill="#000"/>
<path d="M350.4 61.6H385.6" stroke="#000" stroke-width="1.25"/>
<g font-family="Liberation Sans, sans-serif" font-size="15.65" fill="#000">
<text x="389.2" y="29.5">Yamada et al. (1988)</text>
<text x="389.2" y="48.5">Djurić et al. (1993)</text>
<text x="389.2" y="67.5">This calcuation</text>
</g>
</svg>
</body></html>
